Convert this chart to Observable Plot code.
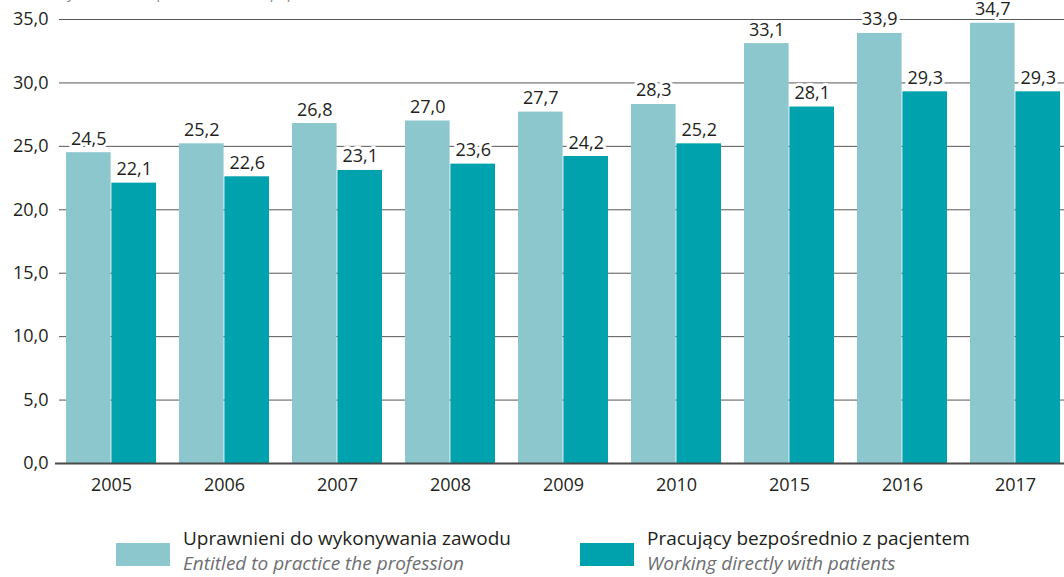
<!DOCTYPE html>
<html>
<head>
<meta charset="utf-8">
<script src="https://cdn.jsdelivr.net/npm/d3@7"></script>
<script src="https://cdn.jsdelivr.net/npm/@observablehq/plot@0.6"></script>
<style>
  html, body { margin: 0; padding: 0; background: #fff; }
  #wrap { position: relative; width: 1064px; height: 577px; overflow: hidden; font-family: "Open Sans", sans-serif; }
  #sub { position: absolute; left: 22px; top: -18px; font-size: 15px; font-style: italic; color: #8a8a8a; white-space: nowrap; }
  #chart { position: absolute; left: 0; top: 0; }
  .leg { position: absolute; top: 526px; display: flex; align-items: flex-start; }
  .sw { width: 54px; height: 23px; margin-top: 17px; margin-right: 13px; }
  .lt { font-size: 19px; line-height: 25px; color: #231f20; white-space: nowrap; }
  .lt i { color: #6d6e71; }
</style>
</head>
<body>
<div id="wrap">
  <div id="sub">na 10 tys. ludności / per 10 thousand population</div>
  <div id="chart"></div>
  <div class="leg" style="left:116px"><div class="sw" style="background:#8cc7ce"></div><div class="lt">Uprawnieni do wykonywania zawodu<br><i>Entitled to practice the profession</i></div></div>
  <div class="leg" style="left:580px"><div class="sw" style="background:#00a3ad"></div><div class="lt">Pracujący bezpośrednio z pacjentem<br><i>Working directly with patients</i></div></div>
</div>
<script>
const years = ["2005", "2006", "2007", "2008", "2009", "2010", "2015", "2016", "2017"];
const entitled = [24.5, 25.2, 26.8, 27.0, 27.7, 28.3, 33.1, 33.9, 34.7];
const working = [22.1, 22.6, 23.1, 23.6, 24.2, 25.2, 28.1, 29.3, 29.3];
const yTicks = [0, 5, 10, 15, 20, 25, 30, 35];

const colLight = "#8cc7ce";
const colDark = "#00a3ad";
const fmt = d => d.toFixed(1).replace(".", ",");

const dataA = years.map((y, i) => ({year: y, value: entitled[i]}));
const dataB = years.map((y, i) => ({year: y, value: working[i]}));

const half = 45.4;
const quarter = 22.7;

const chart = Plot.plot({
  width: 1064,
  height: 510,
  marginTop: 19,
  marginBottom: 47,
  marginLeft: 59,
  marginRight: -4,
  style: {fontFamily: "Open Sans, sans-serif", fontSize: "18px", color: "#231f20", background: "transparent"},
  x: {domain: years, paddingInner: 0.2, paddingOuter: 0.044, axis: null, label: null},
  y: {domain: [0, 35], axis: null, label: null},
  marks: [
    Plot.ruleY(yTicks.filter(d => d > 0), {stroke: "#555", strokeWidth: 1}),
    Plot.barY(dataA, {x: "year", y: "value", fill: colLight, insetRight: half}),
    Plot.barY(dataB, {x: "year", y: "value", fill: colDark, insetLeft: half}),
    Plot.ruleY([0], {stroke: "#4a4a4a", strokeWidth: 2, insetLeft: -4}),
    Plot.text(dataA, {x: "year", y: "value", text: d => fmt(d.value), dx: -quarter, dy: -8, lineAnchor: "bottom", fill: "#231f20", stroke: "white", strokeWidth: 6, fontSize: 18}),
    Plot.text(dataB, {x: "year", y: "value", text: d => fmt(d.value), dx: quarter, dy: -8, lineAnchor: "bottom", fill: "#231f20", stroke: "white", strokeWidth: 6, fontSize: 18}),
    Plot.axisY(yTicks, {tickSize: 0, tickPadding: 11, tickFormat: fmt, fontSize: 18, fill: "#231f20", label: null}),
    Plot.axisX({tickSize: 0, tickPadding: 15, fontSize: 18, fill: "#231f20", label: null})
  ]
});
document.getElementById("chart").appendChild(chart);
</script>
</body>
</html>
